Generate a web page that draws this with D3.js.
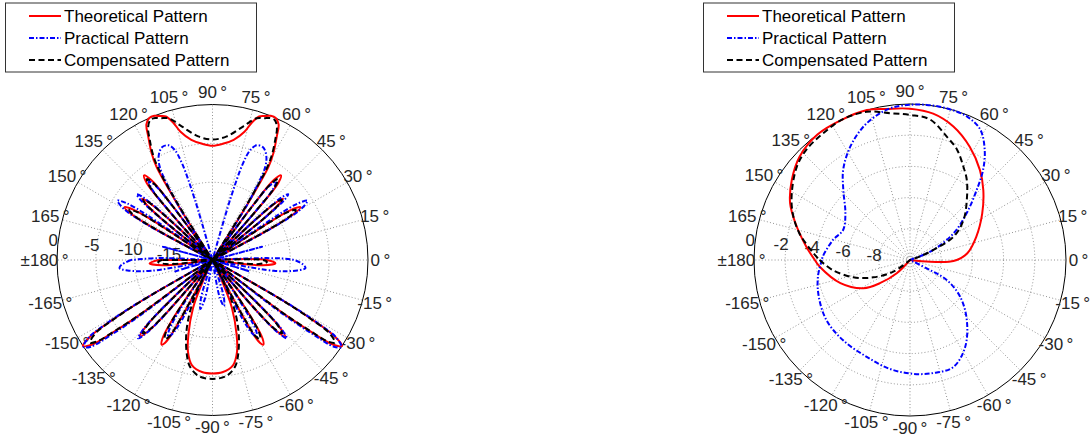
<!DOCTYPE html>
<html><head><meta charset="utf-8">
<script src="https://cdn.jsdelivr.net/npm/d3@7"></script>
<style>
html,body{margin:0;padding:0;background:#fff;}
text{font-family:"Liberation Sans",Arial,Helvetica,sans-serif;}
</style></head>
<body>
<svg id="chart" width="1091" height="439"></svg>
<script>
// ---------- DATA ----------
const seriesNames = ["Theoretical Pattern", "Practical Pattern", "Compensated Pattern"];
const angleTicks = [0,15,30,45,60,75,90,105,120,135,150,165,180,-165,-150,-135,-120,-105,-90,-75,-60,-45,-30,-15];
const angleTickLabels = ["0","15","30","45","60","75","90","105","120","135","150","165","\u00b1180","-165","-150","-135","-120","-105","-90","-75","-60","-45","-30","-15"];
const leftRingTicks = [-15,-10,-5,0];
const leftRingLabels = ["-15","-10","-5","0"];
const rightRingTicks = [-8,-6,-4,-2,0];
const rightRingLabels = ["-8","-6","-4","-2","0"];

// left plot: [angle deg, level dB], range -20..0
const leftTheoretical = [
[-180,-13],[-177,-11.9],[-174,-13.5],[-171,-20],
[-151,-20],[-150,-9],[-149,-4.5],[-148,-1.5],[-146.5,0],[-145,-1],[-144,-4],[-143,-8.5],[-141.5,-20],
[-137,-20],[-136,-11],[-135,-7.8],[-133.5,-6.4],[-132,-7.8],[-131,-11],[-130,-20],
[-125,-20],[-124,-11],[-122.5,-8],[-121,-7.3],[-119.5,-8],[-118.5,-11],[-117.5,-20],
[-116,-20],[-114,-16.5],[-112,-13.3],[-108,-10],[-105,-7.8],[-101,-6.2],[-95,-5.5],[-90,-5.4],[-85,-5.5],[-79,-6.2],[-75,-7.8],[-72,-10],[-68,-13.3],[-66,-16.5],[-64,-20],
[-62.5,-20],[-61.5,-11],[-60.5,-8],[-59,-7.3],[-57.5,-8],[-56,-11],[-55,-20],
[-50,-20],[-49,-11],[-48,-7.8],[-46.5,-6.4],[-45,-7.8],[-44,-11],[-43,-20],
[-38.5,-20],[-37,-8.5],[-36,-4],[-35,-1],[-33.5,0],[-32,-1.5],[-31,-4.5],[-30,-9],[-29,-20],
[-9,-20],[-6,-13.5],[-3,-11.9],[0,-13],[3,-20],
[27,-20],[28.5,-11],[29.5,-8],[31,-6.8],[32.5,-8],[33.5,-11],[35,-20],
[38,-20],[39,-11.5],[40,-8.8],[41,-8],[42,-8.8],[43,-11.5],[44,-20],
[47.5,-20],[48.5,-11],[49.5,-7],[51,-6],[52.5,-7],[53.5,-11],[55,-20],
[57,-20],[58,-11],[59,-6],[60.3,-4.2],[62.5,-2.1],[64,-0.6],[66,0],[68,0],[70,-0.3],[72,-0.6],[74,-1.6],[76,-3.0],[80,-4.3],[85,-5.0],[90,-5.3],
[95,-5.0],[100,-4.3],[104,-3.0],[106,-1.6],[108,-0.6],[110,-0.3],[112,0],[114,0],[116,-0.6],[117.5,-2.1],[119.7,-4.2],[121,-6],[122,-11],[123,-20],
[125,-20],[126.5,-11],[127.5,-7],[129,-6],[130.5,-7],[131.5,-11],[132.5,-20],
[136,-20],[137,-11.5],[138,-8.8],[139,-8],[140,-8.8],[141,-11.5],[142,-20],
[145,-20],[146.5,-11],[147.5,-8],[149,-6.8],[150.5,-8],[151.5,-11],[153,-20],
[177,-20],[180,-13]
];
const leftPractical = [
[-180,-9.5],[-177,-8.3],[-175,-8],[-173,-9],[-170,-12],[-167,-20],
[-166,-20],[-163,-15],[-160,-20],
[-151,-20],[-150,-8.5],[-149,-4],[-148,-1.3],[-146,0],[-144.5,-0.8],[-143.5,-4],[-142.5,-8.5],[-141,-20],
[-137,-20],[-136,-10.5],[-135,-7.5],[-133.5,-6.1],[-132,-7.5],[-131,-10.5],[-130,-20],
[-124,-20],[-123,-11.5],[-121.5,-9.2],[-120,-8.6],[-118.5,-9.2],[-117,-11.5],[-116,-20],
[-110,-20],[-107,-15],[-104,-13.5],[-101,-15],[-98,-20],[-90,-20],[-82,-20],[-79,-15],[-76,-13.9],[-73,-15],[-70,-20],
[-64,-20],[-63,-11.5],[-61.5,-9.2],[-60,-8.6],[-58.5,-9.2],[-57,-11.5],[-56,-20],
[-50,-20],[-49,-10.5],[-48,-7.5],[-46.5,-6.1],[-45,-7.5],[-44,-10.5],[-43,-20],
[-39,-20],[-37.5,-8.5],[-36.5,-4],[-35.5,-0.8],[-34,0],[-32,-1.3],[-31,-4],[-30,-8.5],[-29,-20],
[-20,-20],[-17,-15],[-14,-20],
[-13,-20],[-10,-12],[-7,-9],[-5,-8],[-3,-8.3],[0,-9.5],[2,-13],[4,-20],
[11,-20],[15,-13.4],[19,-20],
[27,-20],[28.5,-10],[30,-6.8],[32,-5.6],[33.5,-6.8],[34.5,-10],[36,-20],
[38,-20],[39,-10.5],[40,-7.8],[41,-7.1],[42,-7.8],[43,-10.5],[44,-20],
[47.5,-20],[48.5,-11.5],[49.5,-8],[51,-7],[52.5,-8],[53.5,-11.5],[54.5,-20],
[56,-20],[57.5,-13],[58.5,-10],[60.5,-6.2],[63,-4.8],[66,-4.1],[69,-4.2],[71,-5],[72.5,-7],[73.7,-11.9],[75,-20],
[90,-20],
[105,-20],[106.3,-11.9],[107.5,-7],[109,-5],[111,-4.2],[114,-4.1],[117,-4.8],[119.5,-6.2],[121.5,-10],[122.5,-13],[124,-20],
[125.5,-20],[126.5,-11.5],[127.5,-8],[129,-7],[130.5,-8],[131.5,-11.5],[132.5,-20],
[136,-20],[137,-10.5],[138,-7.8],[139,-7.1],[140,-7.8],[141,-10.5],[142,-20],
[144,-20],[145.5,-10],[146.5,-6.8],[148,-5.6],[150,-6.8],[151.5,-10],[153,-20],
[161,-20],[165,-13.4],[169,-20],
[176,-20],[178,-13],[180,-9.5]
];
const leftCompensated = [
[-180,-13.5],[-178,-13],[-175,-14],[-172,-20],
[-151,-20],[-150,-9.5],[-149,-5],[-148,-2.3],[-146,-1],[-144.8,-1.8],[-144,-4.5],[-143,-9],[-141.5,-20],
[-137,-20],[-136,-11.5],[-135,-8.2],[-133.5,-7],[-132,-8.2],[-131,-11.5],[-130,-20],
[-125,-20],[-124,-11.5],[-122.5,-8.7],[-121,-8.1],[-119.5,-8.7],[-118.5,-11.5],[-117.5,-20],
[-116.5,-20],[-115,-14],[-110,-10.2],[-105,-7.3],[-102,-6],[-97,-5],[-90,-4.7],[-83,-5],[-78,-6],[-75,-7.3],[-70,-10.2],[-65,-14],[-63.5,-20],
[-62.5,-20],[-61.5,-11.5],[-60.5,-8.7],[-59,-8.1],[-57.5,-8.7],[-56,-11.5],[-55,-20],
[-50,-20],[-49,-11.5],[-48,-8.2],[-46.5,-7],[-45,-8.2],[-44,-11.5],[-43,-20],
[-38.5,-20],[-37,-9],[-36,-4.5],[-35.2,-1.8],[-34,-1],[-32,-2.3],[-31,-5],[-30,-9.5],[-29,-20],
[-8,-20],[-5,-14],[-2,-13],[0,-13.5],[3,-20],
[27,-20],[28.5,-11.5],[29.5,-8.5],[31,-7.5],[32.5,-8.5],[33.5,-11.5],[35,-20],
[38,-20],[39,-11.5],[40,-8.8],[41,-8.2],[42,-8.8],[43,-11.5],[44,-20],
[47.5,-20],[48.5,-11.5],[49.5,-7.6],[51,-6.6],[52.5,-7.6],[53.5,-11.5],[55,-20],
[57.5,-20],[58.3,-11.5],[59.3,-6.5],[60.5,-4.5],[62.5,-2.5],[64,-1.1],[66,-0.3],[68,-0.3],[70,-0.6],[72.7,-0.9],[77,-2.35],[83.4,-4.0],[90,-4.5],
[96.6,-4.0],[103,-2.35],[107.3,-0.9],[110,-0.6],[112,-0.3],[114,-0.3],[116,-1.1],[117.5,-2.5],[119.5,-4.5],[120.7,-6.5],[121.7,-11.5],[122.5,-20],
[125,-20],[126.5,-11.5],[127.5,-7.6],[129,-6.6],[130.5,-7.6],[131.5,-11.5],[132.5,-20],
[136,-20],[137,-11.5],[138,-8.8],[139,-8.2],[140,-8.8],[141,-11.5],[142,-20],
[145,-20],[146.5,-11.5],[147.5,-8.5],[149,-7.5],[150.5,-8.5],[151.5,-11.5],[153,-20],
[177,-20],[180,-13.5]
];

// right plot: [angle deg, level dB], range -10..0
const rightTheoretical = [
[-180,-3.9],[-175.7,-4.2],[-161.6,-5.3],[-148.8,-6.5],[-142.2,-7.6],[-135,-8.8],[-128,-10],
[-8,-10],[-5,-8.7],[-2.5,-7.5],[0,-7.0],[6.7,-6.3],[19.3,-5.5],[32.7,-4.5],[43.7,-3.5],[52.1,-2.7],[62.1,-1.8],[72,-1.0],[81,-0.5],[90,-0.3],[98.7,-0.2],
[106,0],[116,0],[126.4,0],[136.8,-0.3],[145.9,-0.85],[154.7,-1.5],[162.3,-2.3],[172.7,-3.3],[180,-3.9]
];
const rightPractical = [
[-180,-4.35],[-169.7,-4.0],[-158.2,-3.7],[-144.2,-3.4],[-129.8,-3.3],[-114.1,-3.2],[-100.5,-2.9],[-88.3,-2.7],[-78.4,-2.6],[-67.9,-2.6],[-57.6,-3.4],[-46.6,-4.7],[-36.3,-6.0],[-28.6,-7.3],[-26.6,-8.6],[-24,-10],
[18,-10],[23.2,-8.4],[31.6,-6.7],[39.5,-5.3],[46.4,-3.8],[50.8,-2.6],[55.7,-1.5],[61.7,-0.5],[68.4,-0.1],[76.5,0],[83.9,0],[90,-0.05],[96.2,-0.15],[101.6,-0.4],[109.3,-0.95],[117.9,-1.8],[126.5,-2.8],[133.6,-3.8],[144.3,-4.9],[155.8,-5.3],[165.4,-4.9],[177.8,-4.4],[180,-4.35]
];
const rightCompensated = [
[-180,-4.2],[-172.6,-5.0],[-163,-6.2],[-154.7,-7.4],[-145,-8.7],[-138,-10],
[15,-10],[20,-9.3],[23.2,-8.4],[28.3,-6.8],[36.9,-5.7],[46.6,-4.7],[54.7,-3.7],[60.3,-3.1],[67,-2.3],[73.4,-1.75],[81.9,-0.9],[90,-0.7],[97.8,-0.5],[106.3,-0.1],
[115.2,0],[124.4,-0.15],[133.2,-0.3],[140.5,-0.6],[150.6,-1.3],[158.2,-1.9],[166.4,-2.7],[176,-3.8],[180,-4.2]
];

// ---------- STYLE ----------
const styles = [
  {color:"#ff0000", dash:null},
  {color:"#0000ff", dash:"5,2,1.5,2"},
  {color:"#000000", dash:"6,3.5"}
];

const svg = d3.select("#chart");

function polarPlot(cfg) {
  const g = svg.append("g").attr("transform", `translate(${cfg.cx},${cfg.cy})`);
  const r = d3.scaleLinear().domain(cfg.domain).range([0, cfg.R]).clamp(true);
  const toRad = d => d * Math.PI / 180;
  // rings
  cfg.rings.forEach(v => {
    if (v < cfg.domain[1]) {
      g.append("circle").attr("r", r(v)).attr("fill","none")
        .attr("stroke","#777").attr("stroke-width",0.8).attr("stroke-dasharray","1,2.2");
    }
  });
  // spokes
  angleTicks.forEach(a => {
    g.append("line").attr("x1",0).attr("y1",0)
      .attr("x2", cfg.R*Math.cos(toRad(a))).attr("y2", -cfg.R*Math.sin(toRad(a)))
      .attr("stroke","#777").attr("stroke-width",0.8).attr("stroke-dasharray","1,2.2");
  });
  // outer circle
  g.append("circle").attr("r", cfg.R).attr("fill","none").attr("stroke","#000").attr("stroke-width",1);
  // angle labels
  angleTicks.forEach((a,i) => {
    const rr = cfg.R * 1.08;
    g.append("text").attr("x", rr*Math.cos(toRad(a))).attr("y", -rr*Math.sin(toRad(a)))
      .attr("text-anchor","middle").attr("dominant-baseline","central")
      .attr("font-size","17px").attr("fill","#262626")
      .text(angleTickLabels[i] + "\u2009\u00b0");
  });
  // ring labels
  cfg.rings.forEach((v,i) => {
    const rr = r(v) + 5;
    g.append("text").attr("x", rr*Math.cos(toRad(173))).attr("y", -rr*Math.sin(toRad(173)))
      .attr("text-anchor","middle").attr("dominant-baseline","central")
      .attr("font-size","17px").attr("fill","#262626")
      .text(cfg.ringLabels[i]);
  });
  // series
  const line = d3.lineRadial()
    .angle(d => toRad(90 - d[0]))
    .radius(d => r(d[1]))
    .curve(d3.curveCatmullRom.alpha(0.5));
  cfg.series.forEach((s,i) => {
    g.append("path").attr("d", line(s)).attr("fill","none")
      .attr("stroke", styles[i].color).attr("stroke-width",2)
      .attr("stroke-linejoin","round")
      .attr("stroke-dasharray", styles[i].dash);
  });
}

function legend(x, y) {
  const g = svg.append("g").attr("transform", `translate(${x},${y})`);
  g.append("rect").attr("x",0.5).attr("y",0.5).attr("width",251).attr("height",69)
    .attr("fill","#fff").attr("stroke","#333").attr("stroke-width",1);
  seriesNames.forEach((n,i) => {
    const yy = 13.5 + i*22;
    g.append("line").attr("x1",24).attr("x2",56).attr("y1",yy).attr("y2",yy)
      .attr("stroke", styles[i].color).attr("stroke-width",2)
      .attr("stroke-dasharray", styles[i].dash);
    g.append("text").attr("x",59).attr("y",yy).attr("dominant-baseline","central")
      .attr("font-size","17px").attr("fill","#000").text(n);
  });
}

polarPlot({cx:212.5, cy:260, R:155.5, domain:[-20,0], rings:leftRingTicks, ringLabels:leftRingLabels,
  series:[leftTheoretical, leftPractical, leftCompensated]});
polarPlot({cx:910, cy:260, R:156, domain:[-10,0], rings:rightRingTicks, ringLabels:rightRingLabels,
  series:[rightTheoretical, rightPractical, rightCompensated]});
legend(5, 2.5);
legend(703, 2.5);
</script>
</body></html>
